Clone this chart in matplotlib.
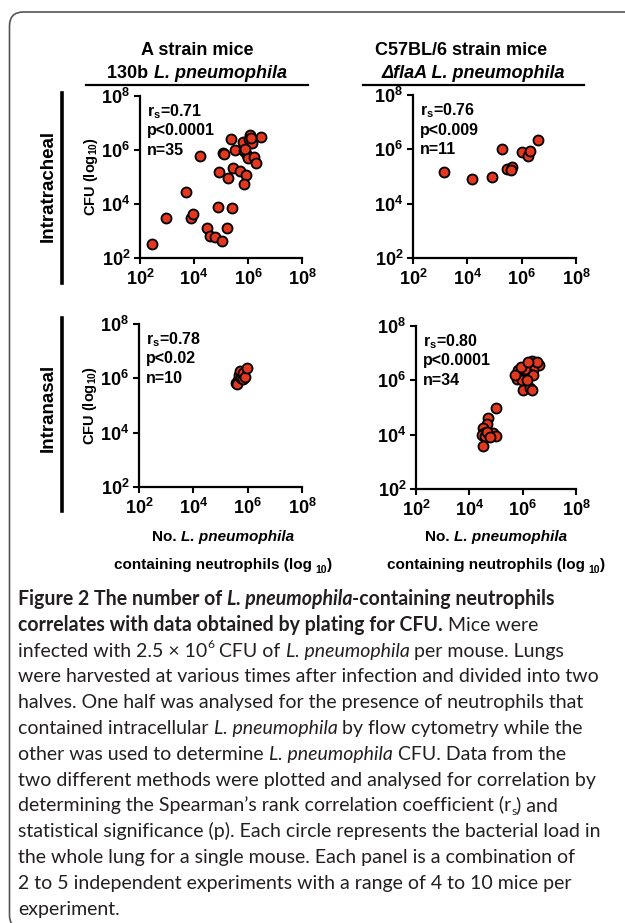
import matplotlib
matplotlib.use('Agg')
import matplotlib.pyplot as plt
from matplotlib.font_manager import FontProperties
from matplotlib.patches import FancyBboxPatch
from matplotlib.transforms import IdentityTransform
from matplotlib.lines import Line2D

plt.rcParams['font.family'] = ['Liberation Sans', 'DejaVu Sans']
plt.rcParams['mathtext.fontset'] = 'custom'
plt.rcParams['mathtext.rm'] = 'Liberation Sans'
plt.rcParams['mathtext.bf'] = 'Liberation Sans:bold'
plt.rcParams['mathtext.it'] = 'Liberation Sans:italic'

# ---------------- data (log10 values) ----------------
# A strain mice, 130b L. pneumophila, intratracheal
a_it_x = [2.44, 2.95, 3.70, 3.88, 3.95, 4.21, 4.49, 4.59, 4.77, 5.02, 4.90, 5.41,
          5.21, 4.91, 5.09, 5.27, 5.43, 5.36, 5.52, 5.72, 5.93, 5.85, 5.83, 5.85,
          5.95, 5.99, 6.07, 6.04, 6.14, 6.22, 6.30, 6.49, 5.10, 6.10, 5.90]
a_it_y = [2.52, 3.48, 4.46, 3.49, 3.63, 5.78, 3.10, 2.81, 2.78, 2.63, 3.88, 3.84,
          3.12, 5.20, 5.89, 4.96, 5.32, 6.40, 6.00, 5.21, 5.09, 4.74, 6.31, 5.96,
          5.81, 5.69, 6.56, 6.40, 6.25, 5.75, 5.51, 6.47, 5.85, 6.45, 6.05]
# C57BL/6 mice, flaA L. pneumophila, intratracheal
b_it_x = [3.15, 4.18, 4.90, 5.26, 5.45, 5.63, 5.60, 6.00, 6.23, 6.32, 6.59]
b_it_y = [5.17, 4.92, 4.97, 6.00, 5.26, 5.36, 5.24, 5.90, 5.75, 5.95, 6.33]
# A strain mice, intranasal
a_in_x = [5.58, 5.63, 5.59, 5.67, 5.70, 5.76, 5.84, 5.81, 5.92, 5.98]
a_in_y = [5.84, 5.93, 5.78, 6.11, 6.27, 6.03, 5.96, 6.18, 6.05, 6.39]
# C57BL/6 mice, intranasal
b_in_x = [5.00, 4.71, 4.65, 4.53, 4.55, 4.46, 4.59, 4.90, 5.00, 4.50, 4.65, 4.78,
          5.78, 5.90, 6.03, 5.84, 6.15, 6.28, 6.34, 6.46, 6.63, 6.40, 6.25, 6.09,
          5.96, 6.38, 6.00, 6.28, 6.15, 5.71, 6.53, 5.93, 6.21, 6.34]
b_in_y = [4.99, 4.60, 4.41, 4.23, 4.05, 3.99, 3.95, 4.05, 3.95, 3.60, 4.11, 3.93,
          6.04, 6.18, 6.30, 6.37, 6.49, 6.61, 6.73, 6.55, 6.55, 6.37, 6.22, 6.43,
          6.00, 6.18, 5.66, 5.70, 6.00, 6.18, 6.67, 6.49, 6.67, 5.66]

stats_a_it = ['0.71', 'p<0.0001', 'n=35']
stats_b_it = ['0.76', 'p<0.009', 'n=11']
stats_a_in = ['0.78', 'p<0.02', 'n=10']
stats_b_in = ['0.80', 'p<0.0001', 'n=34']

tick_exps = [2, 4, 6, 8]
row_labels = ['Intratracheal', 'Intranasal']

# ---------------- figure ----------------
W, H = 625, 923
fig = plt.figure(figsize=(W / 100, H / 100), dpi=100)
fig.patch.set_facecolor('white')
renderer = fig.canvas.get_renderer()

RED = '#e2381f'


def text_width(s, prop):
    w1, _, _ = renderer.get_text_width_height_descent(s + 'x', prop, ismath=False)
    w2, _, _ = renderer.get_text_width_height_descent('x', prop, ismath=False)
    return w1 - w2


def draw_runs(runs, x, yb, size, family, ha='left', color='black'):
    """runs: (text, weight, style, scale, shift_em). x, yb in px from top-left."""
    items = []
    total = 0.0
    for text, weight, style, scale, shift in runs:
        prop = FontProperties(family=family, weight=weight, style=style,
                              size=size * scale)
        lead = len(text) - len(text.lstrip(' '))
        sp = text_width(' ', prop) if lead else 0.0
        t = text.lstrip(' ')
        w = text_width(t, prop)
        items.append((t, prop, lead * sp, w, shift * size * 100 / 72))
        total += lead * sp + w
    if ha == 'center':
        x -= total / 2
    for t, prop, pre, w, dy in items:
        x += pre
        fig.text(x / W, 1 - (yb - dy) / H, t, fontproperties=prop,
                 va='baseline', ha='left', color=color)
        x += w
    return total


def make_axes(x0, y0, x1, y1):
    ax = fig.add_axes([x0 / W, 1 - y1 / H, (x1 - x0) / W, (y1 - y0) / H])
    ax.set_xscale('log')
    ax.set_yscale('log')
    ax.set_xlim(1e2, 1e8)
    ax.set_ylim(1e2, 1e8)
    ticks = [10.0 ** e for e in tick_exps]
    labels = [r'$\mathbf{10^{%d}}$' % e for e in tick_exps]
    ax.set_xticks(ticks)
    ax.set_xticklabels(labels)
    ax.set_yticks(ticks)
    ax.set_yticklabels(labels)
    ax.minorticks_off()
    for s in ['top', 'right']:
        ax.spines[s].set_visible(False)
    for s in ['left', 'bottom']:
        ax.spines[s].set_linewidth(1.6)
    ax.tick_params(axis='both', which='major', direction='out', length=4,
                   width=1.5, labelsize=13)
    ax.tick_params(axis='x', pad=4)
    ax.tick_params(axis='y', pad=3)
    ax.patch.set_alpha(0)
    return ax


panels = [
    ((140, 96, 302, 258), a_it_x, a_it_y, stats_a_it, True),
    ((413, 95, 576, 258), b_it_x, b_it_y, stats_b_it, False),
    ((139, 324, 302, 487), a_in_x, a_in_y, stats_a_in, True),
    ((416, 326, 576, 489), b_in_x, b_in_y, stats_b_in, False),
]

for (x0, y0, x1, y1), xs, ys, st, ylab in panels:
    ax = make_axes(x0, y0, x1, y1)
    ax.scatter([10.0 ** v for v in xs], [10.0 ** v for v in ys], s=52,
               facecolor=RED, edgecolor='black', linewidths=1.3, zorder=3,
               clip_on=False)
    tx = x0 + 7
    fig.text(tx / W, 1 - (y0 + 20) / H, r'r$_{\mathbf{s}}$=' + st[0],
             fontsize=11.5, fontweight='bold', va='baseline', ha='left')
    fig.text(tx / W, 1 - (y0 + 39.5) / H, st[1],
             fontsize=11.5, fontweight='bold', va='baseline', ha='left')
    fig.text(tx / W, 1 - (y0 + 59) / H, st[2],
             fontsize=11.5, fontweight='bold', va='baseline', ha='left')
    if ylab:
        ax.set_ylabel(r'CFU (log$_{\mathbf{10}}$)', fontsize=10.5,
                      fontweight='bold', labelpad=1)

SANS = ['Liberation Sans', 'DejaVu Sans']

# column headers
draw_runs([('A strain mice', 'bold', 'normal', 1, 0)], 197, 55, 13, SANS, ha='center')
draw_runs([('130b ', 'bold', 'normal', 1, 0), ('L. pneumophila', 'bold', 'italic', 1, 0)],
          197, 78, 13, SANS, ha='center')
draw_runs([('C57BL/6 strain mice', 'bold', 'normal', 1, 0)], 461, 55, 13, SANS, ha='center')
draw_runs([('\u0394flaA L. pneumophila', 'bold', 'italic', 1, 0)],
          473, 78, 13, SANS, ha='center')
fig.add_artist(Line2D([86 / W, 308 / W], [1 - 84.5 / H] * 2, lw=1.6, color='black',
                      transform=fig.transFigure))
fig.add_artist(Line2D([363 / W, 584 / W], [1 - 84.5 / H] * 2, lw=1.6, color='black',
                      transform=fig.transFigure))

# row labels
fig.text(48 / W, 1 - 186 / H, row_labels[0], rotation=90, fontsize=13.5,
         fontweight='bold', ha='center', va='center')
fig.text(48 / W, 1 - 408 / H, row_labels[1], rotation=90, fontsize=13.5,
         fontweight='bold', ha='center', va='center')
fig.add_artist(Line2D([62 / W] * 2, [1 - 93 / H, 1 - 283 / H], lw=2.6, color='black',
                      transform=fig.transFigure))
fig.add_artist(Line2D([62 / W] * 2, [1 - 318 / H, 1 - 511 / H], lw=2.6, color='black',
                      transform=fig.transFigure))

# x axis labels (bottom panels)
for cx in (223, 496):
    draw_runs([('No. ', 'bold', 'normal', 1, 0), ('L. pneumophila', 'bold', 'italic', 1, 0)],
              cx, 541, 11, SANS, ha='center')
    draw_runs([('containing neutrophils (log ', 'bold', 'normal', 1, 0),
               ('10', 'bold', 'normal', 0.68, -0.25), (')', 'bold', 'normal', 1, 0)],
              cx, 569, 11, SANS, ha='center')

# caption
CAP = ['Lato', 'DejaVu Sans']
R = ('normal', 'normal')
B = ('bold', 'normal')
I = ('normal', 'italic')
BI = ('bold', 'italic')


def run(t, f, scale=1.0, shift=0.0):
    return (t, f[0], f[1], scale, shift)


caption = [
    [run('Figure 2 The number of ', B), run('L. pneumophila', BI),
     run('-containing neutrophils', B)],
    [run('correlates with data obtained by plating for CFU.', B), run(' Mice were', R)],
    [run('infected with 2.5 \u00d7 10', R), run('6', R, 0.62, 0.42), run(' CFU of ', R),
     run('L. pneumophila', I), run(' per mouse. Lungs', R)],
    [run('were harvested at various times after infection and divided into two', R)],
    [run('halves. One half was analysed for the presence of neutrophils that', R)],
    [run('contained intracellular ', R), run('L. pneumophila', I),
     run(' by flow cytometry while the', R)],
    [run('other was used to determine ', R), run('L. pneumophila', I),
     run(' CFU. Data from the', R)],
    [run('two different methods were plotted and analysed for correlation by', R)],
    [run('determining the Spearman\u2019s rank correlation coefficient (r', R),
     run('s', R, 0.62, -0.18), run(') and', R)],
    [run('statistical significance (p). Each circle represents the bacterial load in', R)],
    [run('the whole lung for a single mouse. Each panel is a combination of', R)],
    [run('2 to 5 independent experiments with a range of 4 to 10 mice per', R)],
    [run('experiment.', R)],
]

# fit caption size so the reference line spans the text block width
ref_prop = FontProperties(family=CAP, size=10)
ref_w = text_width(caption[9][0][0], ref_prop)
cap_size = 10 * 584 / ref_w

for i, line in enumerate(caption):
    draw_runs(line, 18, 605 + i * 25.8, cap_size, CAP, color='#231f20')

# rounded frame
frame = FancyBboxPatch((9.5, -6), 700, H - 12 + 6,
                       boxstyle='round,pad=0,rounding_size=14',
                       transform=IdentityTransform(), fill=False,
                       lw=1.2, ec='#555555')
fig.add_artist(frame)

fig.savefig('out.png', dpi=100, facecolor='white')
